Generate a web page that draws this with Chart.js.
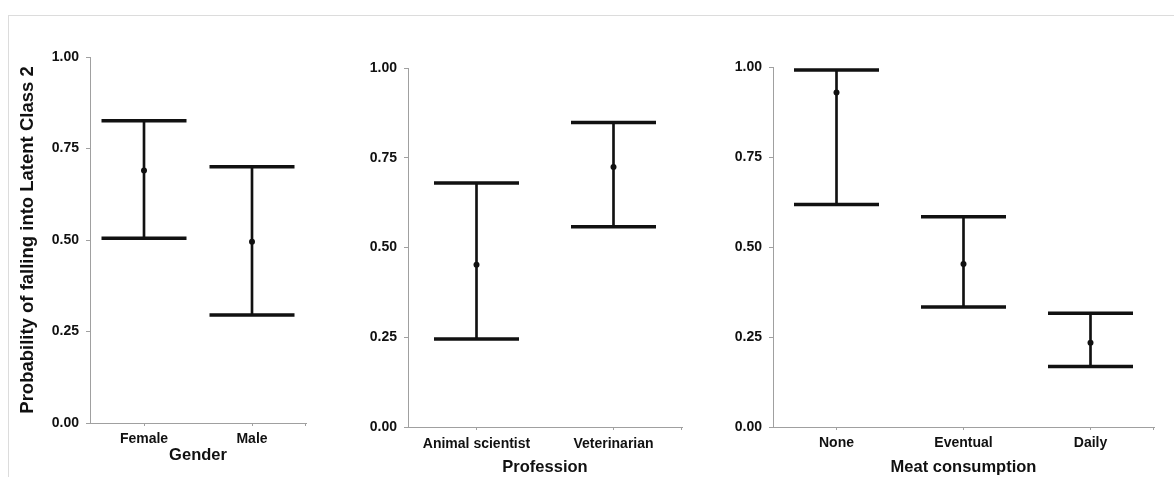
<!DOCTYPE html>
<html>
<head>
<meta charset="utf-8">
<script src="https://cdn.jsdelivr.net/npm/chart.js@4.4.1/dist/chart.umd.min.js"></script>
<style>
    body { margin: 0; background: #fff; width: 1174px; height: 477px; overflow: hidden; position: relative; }
    .frame { position: absolute; left: 8px; top: 15px; width: 1200px; height: 500px; border-left: 1px solid #dcdcdc; border-top: 1px solid #dcdcdc; }
    .panel { position: absolute; top: 0; height: 477px; }
</style>
</head>
<body>
<div class="frame"></div>
<div class="panel" style="left:0px;width:330px;"><canvas id="genderChart"></canvas></div>
<div class="panel" style="left:340px;width:360px;"><canvas id="professionChart"></canvas></div>
<div class="panel" style="left:700px;width:474px;"><canvas id="meatChart"></canvas></div>
<script>
// Gender panel
const genderLabels = ['Female', 'Male'];
const genderEst = [0.690, 0.495];
const genderLow = [0.505, 0.295];
const genderHigh = [0.826, 0.700];

// Profession panel
const professionLabels = ['Animal scientist', 'Veterinarian'];
const professionEst = [0.452, 0.724];
const professionLow = [0.245, 0.558];
const professionHigh = [0.680, 0.848];

// Meat consumption panel
const meatLabels = ['None', 'Eventual', 'Daily'];
const meatEst = [0.929, 0.453, 0.234];
const meatLow = [0.618, 0.333, 0.168];
const meatHigh = [0.992, 0.584, 0.316];

const yTicks = [0, 0.25, 0.5, 0.75, 1];
const yAxisTitle = 'Probability of falling into Latent Class 2';

const FONT = "'Liberation Sans', Arial, sans-serif";
const AXIS_COLOR = '#a0a0a0';
const INK = '#111';

// small tick at the right end of the x axis, like the original
const endTickPlugin = {
    id: 'endTick',
    afterDraw(chart) {
        const area = chart.chartArea;
        const c = chart.ctx;
        c.save();
        c.strokeStyle = AXIS_COLOR;
        c.lineWidth = 1;
        c.beginPath();
        c.moveTo(area.right - 0.5, area.bottom);
        c.lineTo(area.right - 0.5, area.bottom + 3);
        c.stroke();
        c.restore();
    }
};

function makePanel(canvasId, cfg) {
    const canvas = document.getElementById(canvasId);
    if (!canvas) {
        console.error('Canvas not found: ' + canvasId);
        return;
    }
    const bars = cfg.low.map((v, i) => [v, cfg.high[i]]);

    new Chart(canvas.getContext('2d'), {
        type: 'bar',
        data: {
            labels: cfg.labels,
            datasets: [{
                label: 'range',
                data: bars,
                backgroundColor: INK,
                borderWidth: 0,
                barThickness: 2,
                order: 3
            }, {
                type: 'line',
                label: 'upper',
                data: cfg.high,
                showLine: false,
                pointStyle: 'line',
                pointRadius: 42.5,
                pointBorderWidth: 3.5,
                pointBorderColor: INK,
                order: 1
            }, {
                type: 'line',
                label: 'lower',
                data: cfg.low,
                showLine: false,
                pointStyle: 'line',
                pointRadius: 42.5,
                pointBorderWidth: 3.5,
                pointBorderColor: INK,
                order: 1
            }, {
                type: 'line',
                label: 'estimate',
                data: cfg.est,
                showLine: false,
                pointStyle: 'circle',
                pointRadius: 3,
                pointBackgroundColor: INK,
                pointBorderColor: INK,
                pointBorderWidth: 0,
                order: 0
            }]
        },
        plugins: [endTickPlugin],
        options: {
            responsive: true,
            maintainAspectRatio: false,
            animation: false,
            layout: {
                // the wide cap markers would otherwise reserve extra room on every side
                autoPadding: false,
                padding: { top: cfg.top, right: cfg.right, left: 0, bottom: 0 }
            },
            plugins: {
                legend: { display: false },
                tooltip: { enabled: false }
            },
            scales: {
                x: {
                    offset: true,
                    grid: {
                        display: true,
                        offset: false,
                        drawOnChartArea: false,
                        drawTicks: true,
                        tickLength: 3,
                        color: AXIS_COLOR
                    },
                    border: { color: AXIS_COLOR, width: 1 },
                    ticks: {
                        color: INK,
                        padding: cfg.xPad,
                        maxRotation: 0,
                        font: { family: FONT, size: 14, weight: 'bold' }
                    },
                    title: {
                        display: true,
                        text: cfg.xTitle,
                        color: INK,
                        padding: { top: 0, bottom: cfg.titlePad },
                        font: { family: FONT, size: 16.5, weight: 'bold' }
                    },
                    afterFit: function(scale) {
                        scale.height = cfg.xHeight;
                        scale.paddingLeft = 0;
                        scale.paddingRight = 0;
                    }
                },
                y: {
                    min: 0,
                    max: 1,
                    afterBuildTicks: function(scale) {
                        scale.ticks = yTicks.map(v => ({ value: v }));
                    },
                    grid: {
                        display: true,
                        drawOnChartArea: false,
                        drawTicks: true,
                        tickLength: 4,
                        color: AXIS_COLOR
                    },
                    border: { color: AXIS_COLOR, width: 1 },
                    ticks: {
                        color: INK,
                        padding: 7,
                        font: { family: FONT, size: 14, weight: 'bold' },
                        callback: function(value) {
                            return Number(value).toFixed(2);
                        }
                    },
                    title: {
                        display: cfg.showYTitle,
                        text: yAxisTitle,
                        color: INK,
                        padding: { top: 17, bottom: 0 },
                        font: { family: FONT, size: 18.5, weight: 'bold' }
                    },
                    afterFit: function(scale) {
                        scale.width = cfg.yWidth;
                    }
                }
            }
        }
    });
    console.log('Panel drawn: ' + canvasId);
}

document.addEventListener('DOMContentLoaded', function() {
    makePanel('genderChart', {
        labels: genderLabels, est: genderEst, low: genderLow, high: genderHigh,
        xTitle: 'Gender', showYTitle: true,
        top: 57, right: 24, yWidth: 90, xHeight: 54, xPad: 5, titlePad: 12
    });
    makePanel('professionChart', {
        labels: professionLabels, est: professionEst, low: professionLow, high: professionHigh,
        xTitle: 'Profession', showYTitle: false,
        top: 68, right: 18, yWidth: 68, xHeight: 50, xPad: 6, titlePad: 0
    });
    makePanel('meatChart', {
        labels: meatLabels, est: meatEst, low: meatLow, high: meatHigh,
        xTitle: 'Meat consumption', showYTitle: false,
        top: 67, right: 20, yWidth: 73, xHeight: 50, xPad: 5, titlePad: 0
    });
});
</script>
</body>
</html>
